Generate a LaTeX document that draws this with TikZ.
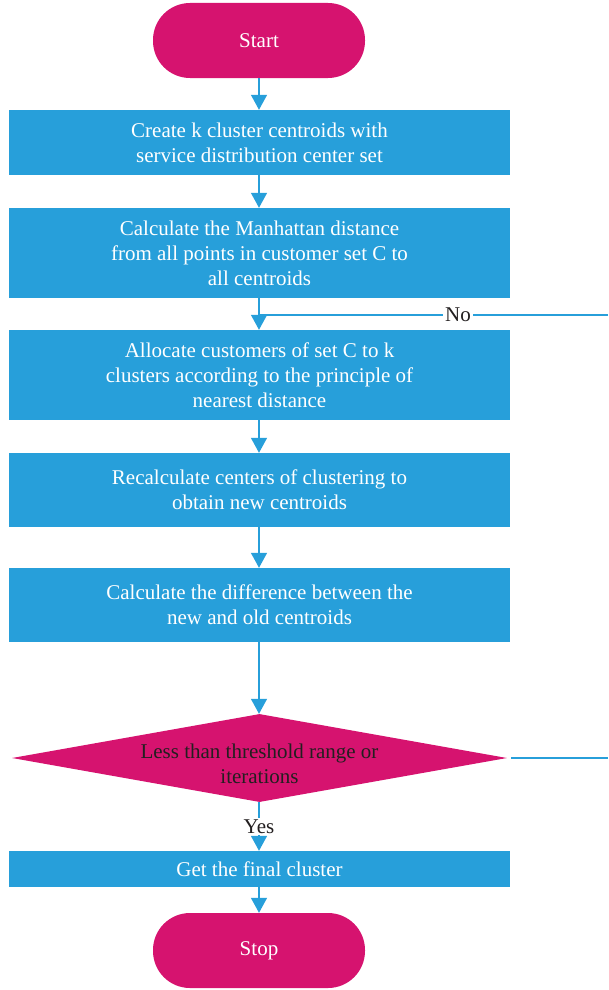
\documentclass[tikz,border=0pt]{standalone}
\usepackage{fontspec}
\setmainfont{Liberation Serif}
\usetikzlibrary{arrows.meta,shapes.geometric,positioning}
\definecolor{fblue}{RGB}{39,159,218}
\definecolor{fmag}{RGB}{214,19,111}
\definecolor{ftext}{RGB}{35,31,32}
\tikzset{
  procbox/.style={rectangle, fill=fblue, draw=none, text=white, minimum width=501pt, inner sep=0pt, align=center, font=\fontsize{21}{25}\selectfont},
  termbox/.style={rectangle, rounded corners=37pt, fill=fmag, draw=none, text=white, minimum width=212pt, minimum height=75pt, inner sep=0pt, font=\fontsize{21}{25}\selectfont},
  decbox/.style={diamond, fill=fmag, draw=none, text=ftext, aspect=5.6, minimum width=495pt, minimum height=88pt, inner sep=0pt, align=center, font=\fontsize{21}{25}\selectfont},
  conn/.style={draw=fblue, line width=1.4pt, -{Triangle[width=16pt,length=15pt]}},
  plainconn/.style={draw=fblue, line width=1.4pt},
  lbl/.style={fill=white, text=ftext, inner sep=2pt, font=\fontsize{21}{25}\selectfont}
}
\begin{document}
\begin{tikzpicture}[x=1pt,y=-1pt]
\useasboundingbox (0,0) rectangle (608,990);
\node[termbox] (start) at (259,40.5) {Start};
\node[procbox, minimum height=65pt] (b1) at (259.5,142.5) {Create k cluster centroids with\\service distribution center set};
\node[procbox, minimum height=90pt] (b2) at (259.5,253) {Calculate the Manhattan distance\\from all points in customer set C to\\all centroids};
\node[procbox, minimum height=90pt] (b3) at (259.5,375) {Allocate customers of set C to k\\clusters according to the principle of\\nearest distance};
\node[procbox, minimum height=74pt] (b4) at (259.5,490) {Recalculate centers of clustering to\\obtain new centroids};
\node[procbox, minimum height=74pt] (b5) at (259.5,605) {Calculate the difference between the\\new and old centroids};
\node[decbox] (dec) at (259.5,758) {};
\node[text=ftext, align=center, font=\fontsize{21}{25}\selectfont] (dectext) at (259.5,764) {Less than threshold range or\\iterations};
\node[procbox, minimum height=36pt] (b6) at (259.5,869) {Get the final cluster};
\node[termbox] (stop) at (259,950.5) {Stop};

\coordinate (noend) at (608,315);
\coordinate (nojoin) at (259,315);
\coordinate (decend) at (608,758);

\draw[conn] (start.south -| 259,0) -- (b1.north -| 259,0);
\draw[conn] (b1.south -| 259,0) -- (b2.north -| 259,0);
\draw[conn] (b2.south -| 259,0) -- (b3.north -| 259,0);
\draw[conn] (b3.south -| 259,0) -- (b4.north -| 259,0);
\draw[conn] (b4.south -| 259,0) -- (b5.north -| 259,0);
\draw[conn] (b5.south -| 259,0) -- (dec.north -| 259,0);
\draw[conn] (dec.south -| 259,0) -- node[lbl, pos=0.5] (yes) {Yes} (b6.north -| 259,0);
\draw[conn] (b6.south -| 259,0) -- (stop.north -| 259,0);
\draw[plainconn] (noend) -- node[lbl, pos=0.43] (no) {No} (nojoin);
\draw[plainconn] ([xshift=4pt]dec.east) -- (decend);
\end{tikzpicture}
\end{document}
